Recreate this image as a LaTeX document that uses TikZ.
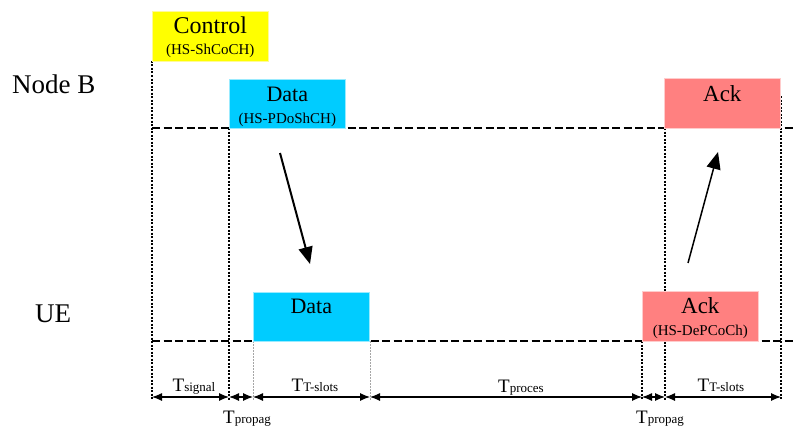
\documentclass[tikz,border=0pt]{standalone}
\usepackage{fontspec}
\setmainfont{Liberation Serif}
\usetikzlibrary{arrows.meta}
\definecolor{ctrlyellow}{RGB}{255,255,0}
\definecolor{datacyan}{RGB}{0,204,255}
\definecolor{ackpink}{RGB}{255,128,128}
\newcommand\tlab[1]{{\fontsize{19}{19}\selectfont T}{\fontsize{13}{13}\selectfont #1}}
\begin{document}
\begin{tikzpicture}[x=1pt,y=-1pt,
  box/.style={rectangle, inner sep=0pt, minimum width=116pt, minimum height=50pt, anchor=north west, line width=0.6pt},
  bigtxt/.style={font=\fontsize{23}{23}\selectfont, anchor=base, inner sep=0pt},
  subtxt/.style={font=\fontsize{15}{15}\selectfont, anchor=base, inner sep=0pt},
  sidetxt/.style={font=\fontsize{27}{27}\selectfont, anchor=base west, inner sep=0pt},
  timeline/.style={line width=1.5pt, dash pattern=on 8pt off 3.5pt},
  dotline/.style={line width=2pt, dash pattern=on 2pt off 1.5pt},
  lightdot/.style={line width=1pt, draw=gray!70, dash pattern=on 1.5pt off 1.5pt},
  dim/.style={line width=1.1pt, {Latex[length=10pt,width=8pt]}-{Latex[length=10pt,width=8pt]}},
  dimlab/.style={anchor=base, inner sep=0pt},
  flow/.style={-{Triangle[length=17pt,width=14pt]}}
]
\useasboundingbox (0,0) rectangle (795,428);

% side labels
\node[sidetxt] (nodeb) at (12,93) {Node B};
\node[sidetxt] (ue) at (35,322) {UE};

% time lines
\coordinate (lb0) at (152,128);
\coordinate (lb1) at (795,128);
\coordinate (lu0) at (152,341);
\coordinate (lu1) at (795,341);

% bottom coordinates of the vertical markers
\coordinate (b0) at (152,400);
\coordinate (b1) at (229,400);
\coordinate (b2) at (253,400);
\coordinate (b3) at (370,400);
\coordinate (b4) at (642,400);
\coordinate (b5) at (665,400);
\coordinate (b6) at (781,400);

% vertical markers
\draw[dotline] (152,61) -- (b0);
\draw[dotline] (229,128) -- (b1);
\draw[lightdot] (253,341) -- (b2);
\draw[lightdot] (370,341) -- (b3);
\draw[dotline] (642,341) -- (b4);
\draw[dotline] (665,128) -- (b5);
\draw[dotline] (781,96) -- (b6);

\draw[timeline] (lb0) -- (lb1);
\draw[timeline] (lu0) -- (lu1);

% boxes
\node[box, fill=ctrlyellow, draw=yellow!40] (ctrl) at (152,11) {};
\node[bigtxt, font=\fontsize{24}{24}\selectfont] (ctrlt) at ([yshift=-23pt]ctrl.north) {Control};
\node[subtxt] (ctrls) at ([yshift=-44pt]ctrl.north) {(HS-ShCoCH)};

\node[box, fill=datacyan, draw=datacyan!40, minimum height=49pt] (datab) at (229,79) {};
\node[bigtxt, font=\fontsize{22}{22}\selectfont] (databt) at ([yshift=-22pt]datab.north) {Data};
\node[subtxt] (databs) at ([yshift=-44pt]datab.north) {(HS-PDoShCH)};

\node[box, fill=ackpink, draw=ackpink!40] (ackb) at (664,78) {};
\node[bigtxt] (ackbt) at ([yshift=-23pt]ackb.north) {Ack};

\node[box, fill=datacyan, draw=datacyan!40, minimum height=49pt] (datau) at (253,292) {};
\node[bigtxt, font=\fontsize{22}{22}\selectfont] (dataut) at ([yshift=-21pt]datau.north) {Data};

\node[box, fill=ackpink, draw=ackpink!40] (acku) at (642,291) {};
\node[bigtxt] (ackut) at ([yshift=-22pt]acku.north) {Ack};
\node[subtxt] (ackus) at ([yshift=-44pt]acku.north) {(HS-DePCoCh)};

% transmission arrows
\coordinate (a0) at (280,153);
\coordinate (a1) at (310,264);
\coordinate (u0) at (688,263);
\coordinate (u1) at (718,152);
\draw[flow, line width=2pt] (a0) -- (a1);
\draw[flow, line width=1.5pt] (u0) -- (u1);

% dimension arrows
\coordinate (d0) at (152,397);
\coordinate (d1) at (229,397);
\coordinate (d2) at (253,397);
\coordinate (d3) at (370,397);
\coordinate (d4) at (642,397);
\coordinate (d5) at (665,397);
\coordinate (d6) at (781,397);
\draw[dim] (d0) -- (d1);
\draw[dim] (d1) -- (d2);
\draw[dim] (d2) -- (d3);
\draw[dim] (d3) -- (d4);
\draw[dim] (d4) -- (d5);
\draw[dim] (d5) -- (d6);

\node[dimlab] (tsig) at (194,391) {\tlab{signal}};
\node[dimlab] (tp1) at (247,423) {\tlab{propag}};
\node[dimlab] (ts1) at (315,391) {\tlab{T-slots}};
\node[dimlab] (tpr) at (521,392) {\tlab{proces}};
\node[dimlab] (tp2) at (660,423) {\tlab{propag}};
\node[dimlab] (ts2) at (721,391) {\tlab{T-slots}};
\end{tikzpicture}
\end{document}
